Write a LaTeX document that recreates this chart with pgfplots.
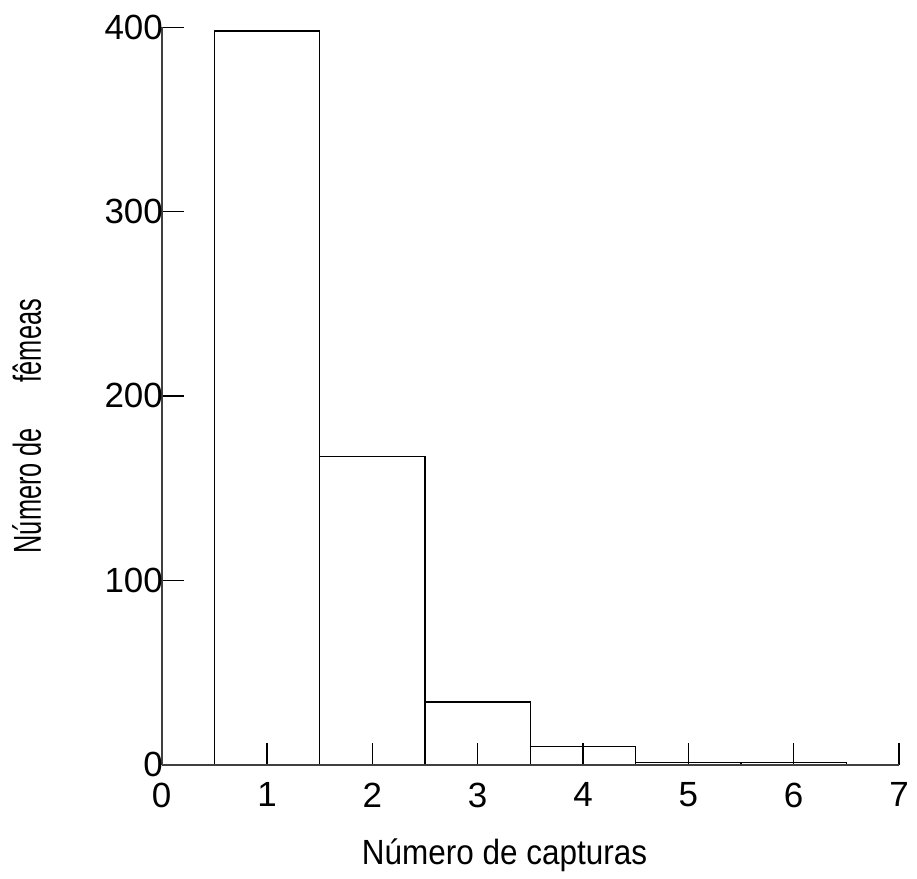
\documentclass[border=0pt]{standalone}
\usepackage{fontspec}
\setmainfont{Liberation Sans}
\newfontfamily\ylabfont[FakeStretch=0.65]{Liberation Sans}
\newfontfamily\xlabfont[FakeStretch=0.9]{Liberation Sans}
\usepackage{pgfplots}
\pgfplotsset{compat=1.18}

\begin{document}
\begin{tikzpicture}
\begin{axis}[
    width=369pt, height=369pt,
    scale only axis,
    clip=false,
    axis on top,
    xmin=0, xmax=7,
    ymin=0, ymax=400,
    enlargelimits=false,
    axis x line=bottom,
    axis y line=left,
    axis line style={-, line width=1pt, black!75},
    xtick={0,1,...,7},
    ytick={0,100,...,400},
    tick align=inside,
    major tick length=11pt,
    tick style={black, line width=0.6pt},
    /pgf/number format/assume math mode=true,
    tick label style={font=\fontsize{17.5}{20}\selectfont},
    xticklabel style={yshift=-5.5pt},
    yticklabel style={xshift=4.8pt, inner sep=1pt, xshift=-3pt},
    xlabel={\xlabfont\fontsize{17.5}{20}\selectfont Número de capturas},
    ylabel={\ylabfont\fontsize{19.5}{22}\selectfont Número de\hspace{23pt}fêmeas},
    xlabel style={at={(axis description cs:0.465,-0.123)}, anchor=center},
    ylabel style={at={(axis description cs:-0.183,0.459)}, anchor=center},
]
\addplot[ybar, bar width=1, fill=white, draw=black, line width=0.6pt]
    coordinates {
    (1, 398)(2, 167)(3, 34)(4, 10)(5, 1)(6, 1)
    };
\path (rel axis cs:-0.2193,1.037) rectangle (rel axis cs:1.0244,-0.1548);
\end{axis}
\end{tikzpicture}
\end{document}
